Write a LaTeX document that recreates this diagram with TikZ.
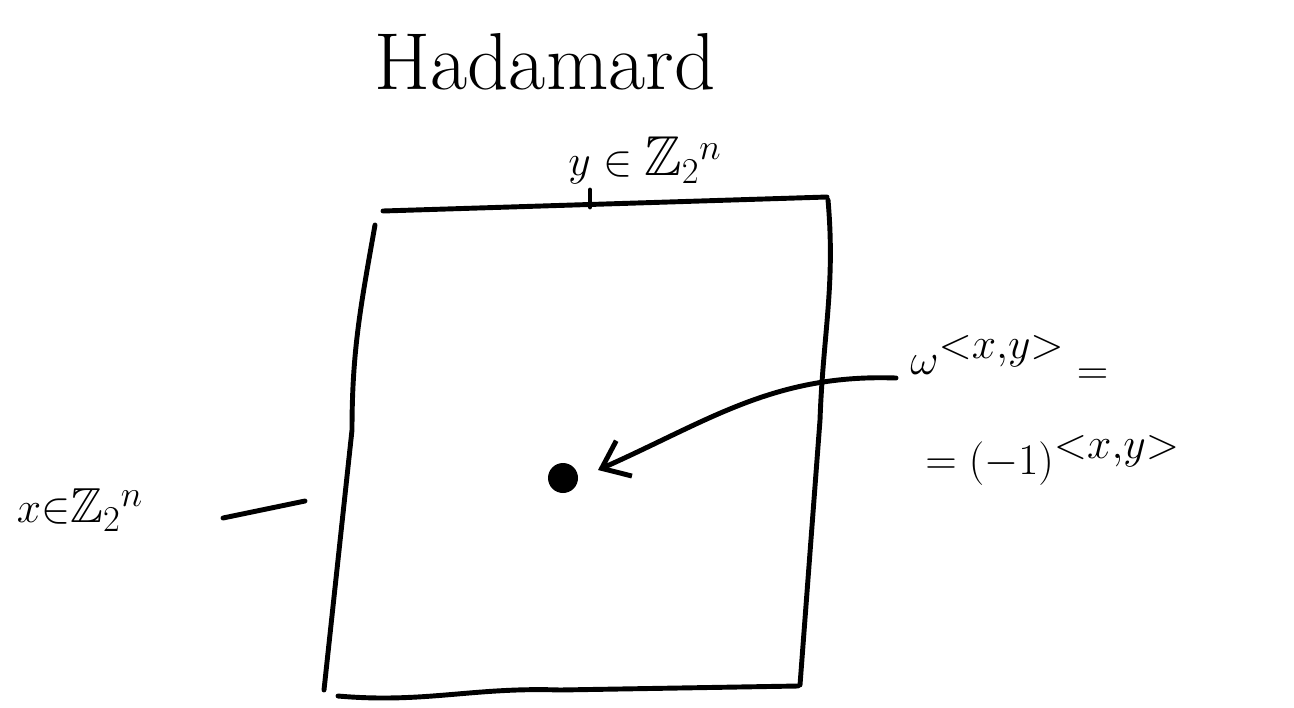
\documentclass[tikz,border=0pt]{standalone}
\usepackage{amssymb}
\usetikzlibrary{arrows.meta,calc}
\begin{document}
\begin{tikzpicture}[x=0.02cm,y=-0.02cm,
  ink/.style={line width=2.8pt,line cap=round,line join=round},
  lbl/.style={inner sep=0pt}]
\useasboundingbox (0,0) rectangle (1294,707);
% box corners
\coordinate (tl) at (383,211);
\coordinate (tr) at (827,197);
\coordinate (br) at (800,687);
\coordinate (bl) at (325,690);
\draw[ink] (tl) -- (tr);
\draw[ink] (828,200) to[out=-85,in=88] (820,420) -- (800,685);
\draw[ink] (375,225) to[out=-100,in=90] (352,430) -- (324,690);
\draw[ink] (338,696) to[out=-5,in=178] (560,690) -- (798,686);
% ticks
\coordinate (tt1) at (590,190);
\coordinate (tt2) at (590,207);
\draw[ink] (tt1) -- (tt2);
\coordinate (lt1) at (223,518);
\coordinate (lt2) at (305,501);
\draw[ink] (lt1) -- (lt2);
% dot
\node[circle,fill=black,inner sep=0pt,minimum size=0.6cm] (dot) at (563,478) {};
\coordinate (tip) at (598,470);
% labels
\node[lbl] (title) at (545,62) {\fontsize{46}{54}\selectfont Hadamard};
\node[lbl] (ylab) at (645,160) {\fontsize{32}{38}\selectfont $y\in\mathbb{Z}_{2}{}^{n}$};
\node[lbl] (xlab) at (80,510) {\fontsize{28}{34}\selectfont $x{\in}\mathbb{Z}_{2}{}^{n}$};
\node[lbl,anchor=west] (om) at (910,360) {\fontsize{34}{40}\selectfont $\omega^{<x,y>}\;\raisebox{-0.4ex}{$=$}$};
\node[lbl,anchor=west] (mo) at (925,460) {\fontsize{38}{44}\selectfont $=(-1)^{<x,y>}$};
% arrow
\draw[ink,-{Straight Barb[length=14pt,width=22pt]}] ($(om.west)+(-14,18)$) to[out=178,in=24] (tip);
\end{tikzpicture}
\end{document}
